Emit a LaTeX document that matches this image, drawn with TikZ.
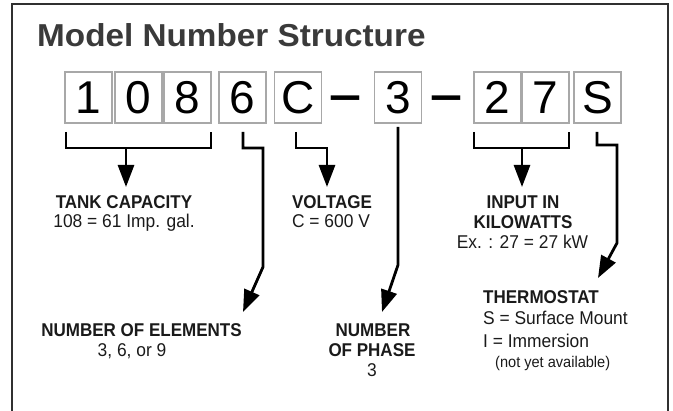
\documentclass[tikz,border=0pt]{standalone}
\usepackage{fontspec}
\setmainfont{Liberation Sans}
\newfontfamily\lblfont[FakeStretch=0.92]{Liberation Sans}
\newfontfamily\txtfont[FakeStretch=0.94]{Liberation Sans}
\newfontfamily\ttlfont[FakeStretch=1.05]{Liberation Sans}
\newfontfamily\dashfont[FakeStretch=1.25]{Liberation Sans}
\usetikzlibrary{arrows.meta}
\definecolor{titlegray}{HTML}{3A3A3A}
\definecolor{ink}{HTML}{1A1A1A}
\definecolor{boxgray}{HTML}{A8A8A8}
\definecolor{framecol}{HTML}{303030}
\begin{document}
\begin{tikzpicture}[x=1pt,y=-1pt,
  frameline/.style={draw=framecol,line width=1.8pt},
  digitbox/.style={draw=boxgray,line width=1.2pt,minimum width=47pt,minimum height=51pt,inner sep=0pt,
    font=\fontsize{46}{46}\selectfont,text=black},
  dashtext/.style={anchor=base,inner sep=0pt,font=\dashfont\bfseries\fontsize{46}{46}\selectfont,text=black},
  lbl/.style={anchor=base,inner sep=0pt,font=\lblfont\bfseries\fontsize{18.5}{20}\selectfont,text=ink},
  txt/.style={anchor=base,inner sep=0pt,font=\txtfont\fontsize{18.5}{20}\selectfont,text=ink},
  smalltxt/.style={anchor=base west,inner sep=0pt,font=\txtfont\fontsize{15.5}{17}\selectfont,text=ink},
  conn/.style={draw=black,line width=2.8pt,line join=miter,line cap=butt},
  arr/.style={conn,-{Triangle[length=22pt,width=16pt]}}
]
\useasboundingbox (0,0) rectangle (673,411);
% frame (open at the bottom)
\draw[frameline] (12,412) -- (12,4) -- (668,4) -- (668,412);
% title
\node[anchor=base west,inner sep=0pt,font=\ttlfont\bfseries\fontsize{31.7}{34}\selectfont,text=titlegray] (title) at (37,47) {Model Number Structure};
% model number boxes
\node[digitbox] (b1) at (88.5,97.5) {1};
\node[digitbox] (b0) at (138.5,97.5) {0};
\node[digitbox] (b8) at (187.5,97.5) {8};
\node[digitbox] (b6) at (242.5,97.5) {6};
\node[digitbox] (bC) at (298,97.5) {C};
\node[dashtext] (d1) at (345.5,111) {–};
\node[digitbox] (b3) at (398,97.5) {3};
\node[dashtext] (d2) at (446,111) {–};
\node[digitbox] (b2) at (497.5,97.5) {2};
\node[digitbox] (b7) at (545.5,97.5) {7};
\node[digitbox] (bS) at (597.5,97.5) {S};
% labels
\node[lbl] (tankT) at (124,209) {TANK CAPACITY};
\node[txt] (tankV) at (124,228) {108 = 61 Imp. gal.};
\node[lbl] (voltT) at (332,209) {VOLTAGE};
\node[txt] (voltV) at (331,228) {C = 600 V};
\node[lbl] (inT1) at (523,209) {INPUT IN};
\node[lbl] (inT2) at (523,229) {KILOWATTS};
\node[txt] (inV) at (522.5,249) {Ex. : 27 = 27 kW};
\node[lbl] (elT) at (141.5,337) {NUMBER OF ELEMENTS};
\node[txt] (elV) at (132,357) {3, 6, or 9};
\node[lbl] (phT1) at (373,337) {NUMBER};
\node[lbl] (phT2) at (372,357) {OF PHASE};
\node[txt] (phV) at (372,377) {3};
\node[lbl,anchor=base west] (thT) at (483,304) {THERMOSTAT};
\node[txt,anchor=base west] (thS) at (483,325) {S = Surface Mount};
\node[txt,anchor=base west] (thI) at (483,348) {I = Immersion};
\node[smalltxt] (thN) at (495,368) {(not yet available)};
% connector points
\coordinate (k1a) at (66,132);  \coordinate (k1b) at (66,148);
\coordinate (k1c) at (211,148); \coordinate (k1d) at (211,132);
\coordinate (k1s) at (126,148); \coordinate (k1t) at (126,187);
\coordinate (k6a) at (243,132); \coordinate (k6b) at (243,148);
\coordinate (k6c) at (263,148); \coordinate (k6d) at (263,267);
\coordinate (k6t) at (243,312);
\coordinate (kCa) at (296,132); \coordinate (kCb) at (296,148);
\coordinate (kCc) at (327,148); \coordinate (kCt) at (327,187);
\coordinate (k3a) at (398,127); \coordinate (k3b) at (398,265);
\coordinate (k3t) at (382,312);
\coordinate (k2a) at (474,132); \coordinate (k2b) at (474,148);
\coordinate (k2c) at (569,148); \coordinate (k2d) at (569,132);
\coordinate (k2s) at (522,148); \coordinate (k2t) at (522,187);
\coordinate (kSa) at (597,132); \coordinate (kSb) at (597,145);
\coordinate (kSc) at (617,145); \coordinate (kSd) at (617,243);
\coordinate (kSt) at (598,278);
% connectors
\draw[conn] (k1a) -- (k1b) -- (k1c) -- (k1d);
\draw[arr] (k1s) -- (k1t);
\draw[arr] (k6a) -- (k6b) -- (k6c) -- (k6d) -- (k6t);
\draw[arr] (kCa) -- (kCb) -- (kCc) -- (kCt);
\draw[arr] (k3a) -- (k3b) -- (k3t);
\draw[conn] (k2a) -- (k2b) -- (k2c) -- (k2d);
\draw[arr] (k2s) -- (k2t);
\draw[arr] (kSa) -- (kSb) -- (kSc) -- (kSd) -- (kSt);
\end{tikzpicture}
\end{document}
